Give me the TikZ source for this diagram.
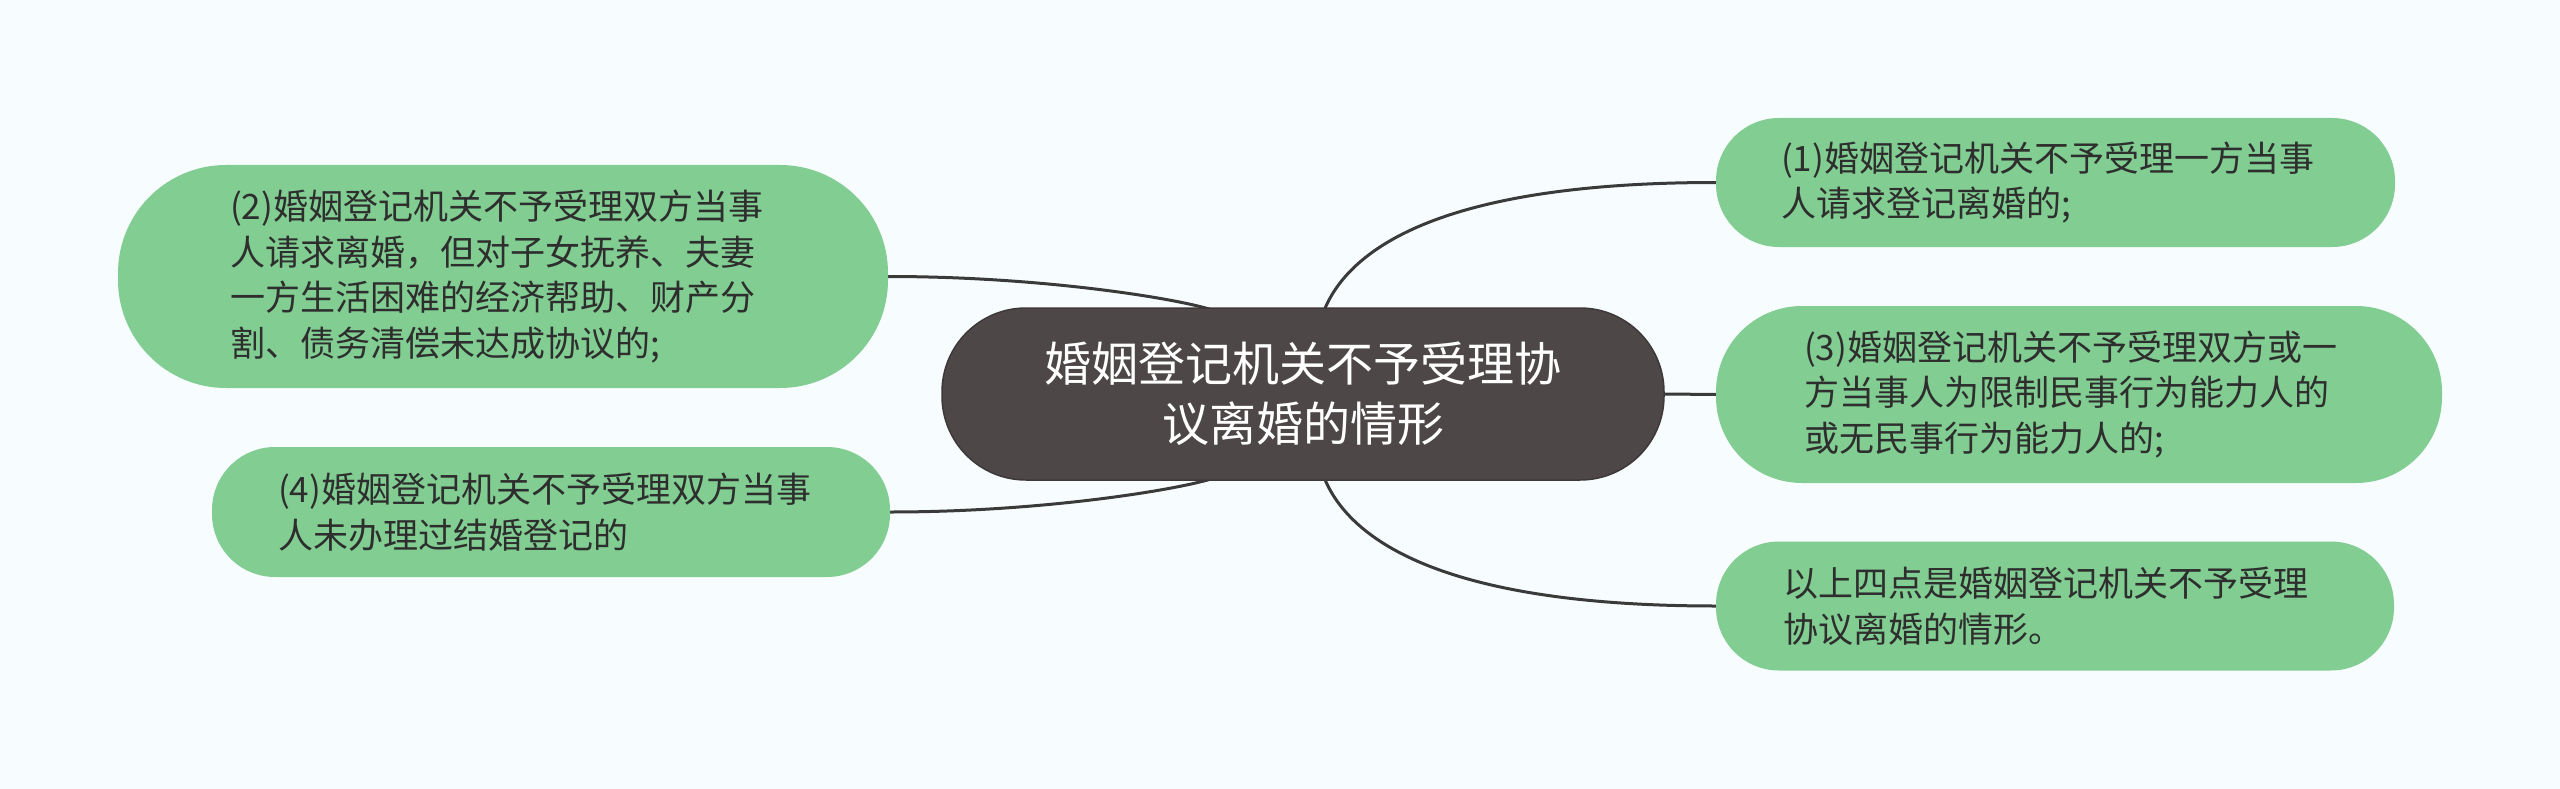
\documentclass[tikz,border=0pt]{standalone}
\usepackage{fontspec}
\setmainfont{Noto Sans CJK SC}
\definecolor{bgc}{HTML}{F7FDFF}
\definecolor{leaf}{HTML}{81CD92}
\definecolor{hubc}{HTML}{4D4747}
\definecolor{hubline}{HTML}{3E3838}
\definecolor{txt}{HTML}{2E2E2E}
\definecolor{wire}{HTML}{3A3A3A}
\pgfdeclarelayer{bglayer}
\pgfdeclarelayer{edgelayer}
\pgfsetlayers{bglayer,edgelayer,main}
\tikzset{
  leafbox/.style={rectangle, fill=leaf, text=txt, align=left, inner ysep=0pt,
    font=\fontsize{35}{45.5}\selectfont},
  hubbox/.style={rectangle, fill=hubc, draw=hubline, line width=1.5pt, text=white,
    align=center, inner ysep=0pt, font=\fontsize{47}{60}\selectfont},
  wireline/.style={draw=wire, line width=3pt}
}
\begin{document}
\begin{tikzpicture}[x=1pt,y=-1pt]
\begin{pgfonlayer}{bglayer}
\fill[bgc] (0,0) rectangle (2560,789);
\end{pgfonlayer}
\useasboundingbox (0,0) rectangle (2560,789);

\node[hubbox, text width=600pt, inner xsep=61pt, minimum height=172pt, rounded corners=84pt]
  (c) at (1303,394) {婚姻登记机关不予受理协\\议离婚的情形};

\node[leafbox, text width=549pt, inner xsep=65pt, minimum height=129pt, rounded corners=63pt]
  (n1) at (2055.5,182.5) {(1)婚姻登记机关不予受理一方当事\\人请求登记离婚的;};

\node[leafbox, text width=550pt, inner xsep=88pt, minimum height=177pt, rounded corners=86pt]
  (n3) at (2079,394.5) {(3)婚姻登记机关不予受理双方或一\\方当事人为限制民事行为能力人的\\或无民事行为能力人的;};

\node[leafbox, text width=544pt, inner xsep=67pt, minimum height=129pt, rounded corners=63pt]
  (n5) at (2055,606) {以上四点是婚姻登记机关不予受理\\协议离婚的情形。};

\node[leafbox, text width=546pt, inner xsep=112pt, minimum height=223pt, rounded corners=108pt]
  (n2) at (503,276.5) {(2)婚姻登记机关不予受理双方当事\\人请求离婚，但对子女抚养、夫妻\\一方生活困难的经济帮助、财产分\\割、债务清偿未达成协议的;};

\node[leafbox, text width=546pt, inner xsep=66pt, minimum height=130pt, rounded corners=63pt]
  (n4) at (551,512) {(4)婚姻登记机关不予受理双方当事\\人未办理过结婚登记的};

\begin{pgfonlayer}{edgelayer}
\draw[wireline] ([xshift=20pt,yshift=-6pt]c.north) .. controls +(24,-64) and +(-276,0) .. (n1.west);
\draw[wireline] ([xshift=20pt,yshift=6pt]c.south) .. controls +(24,64) and +(-276,0) .. (n5.west);
\draw[wireline] (c.east) -- (n3.west);
\draw[wireline] ([xshift=-93pt,yshift=-2pt]c.north) .. controls +(-40,-12) and +(149,0) .. (n2.east);
\draw[wireline] ([xshift=-91pt,yshift=2pt]c.south) .. controls +(-40,12) and +(149,0) .. (n4.east);
\end{pgfonlayer}
\end{tikzpicture}
\end{document}
